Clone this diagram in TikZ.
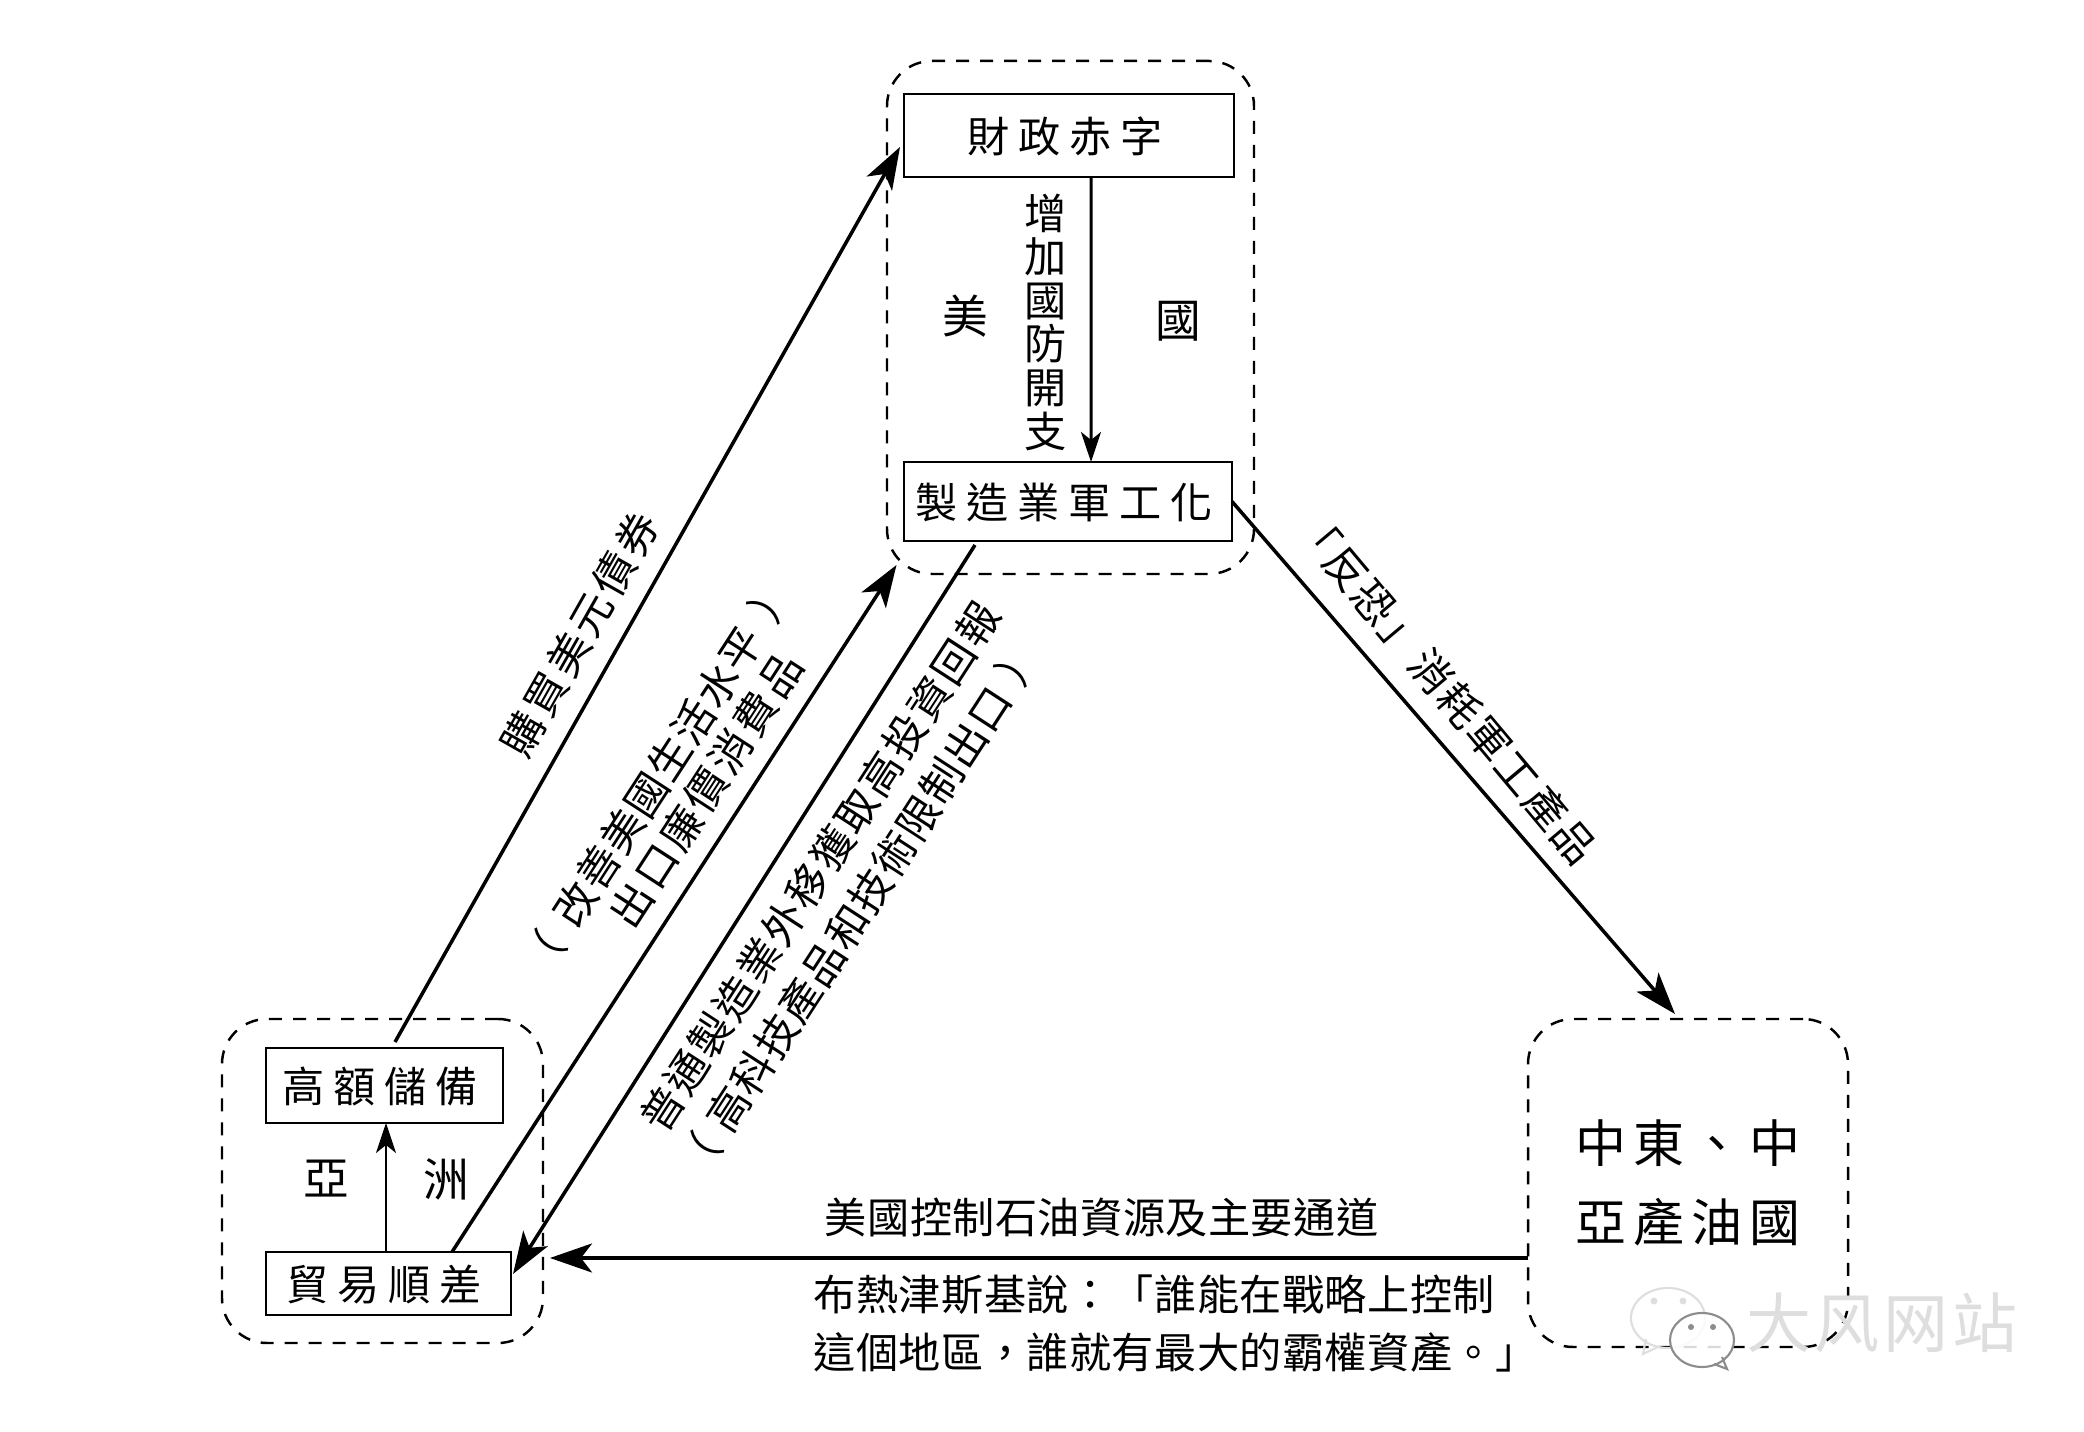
\documentclass[tikz,border=0pt]{standalone}
\usepackage{fontspec}
\setmainfont{Noto Sans CJK TC}
\newfontfamily\WatermarkFont{Noto Sans CJK SC}
\usetikzlibrary{shapes,arrows.meta,positioning,calc}
\definecolor{WatermarkGray}{RGB}{222, 222, 222}
\definecolor{BubbleGray}{RGB}{140, 140, 140}
\newcommand{\BoxFont}{\addfontfeature{LetterSpace=21}\fontsize{12pt}{12.6pt}\selectfont}
\newcommand{\FlowFont}[1]{\addfontfeature{LetterSpace=#1}\fontsize{12pt}{12.4pt}\selectfont}
\newcommand{\RegionFont}{\fontsize{13pt}{14pt}\selectfont}
\newcommand{\OilFont}{\addfontfeature{LetterSpace=14}\fontsize{14.5pt}{22.5pt}\selectfont}
\tikzset{
  groupbox/.style={draw, dash pattern=on 0.13cm off 0.11cm, rounded corners=0.45cm,
                   line width=0.7pt, inner sep=0pt, outer sep=0pt},
  textbox/.style={draw, line width=0.7pt, inner sep=0pt, outer sep=0pt, font=\BoxFont,
                  text height=1.05em, text depth=0.1em, execute at end node=\hspace{0.08cm}},
  flowlabel/.style={inner sep=0pt, font=\FlowFont{#1}},
  flowlabel/.default=1,
  regionlabel/.style={inner sep=0pt, font=\RegionFont},
  bigarrow/.style={line width=1pt, -{Stealth[length=0.42cm,width=0.29cm,inset=0.11cm]}},
  smallarrow/.style={line width=0.85pt, -{Stealth[length=0.3cm,width=0.2cm,inset=0.08cm]}}
}

\begin{document}
\begin{tikzpicture}
        \useasboundingbox (0,0) rectangle (20.84,14.32);

        \node[groupbox, minimum width=3.67cm, minimum height=5.13cm] (usgroup) at (10.705,11.145) {};
        \node[groupbox, minimum width=3.21cm, minimum height=3.24cm] (asiagroup) at (3.825,2.51) {};
        \node[groupbox, minimum width=3.20cm, minimum height=3.28cm, align=center, font=\OilFont]
              (oilgroup) at (16.88,2.49) {中東、中\hspace{0.12cm}\\亞產油國\hspace{0.12cm}};

        \node[textbox, minimum width=3.30cm, minimum height=0.83cm] (deficit) at (10.69,12.965) {財政赤字};
        \node[textbox, minimum width=3.28cm, minimum height=0.79cm] (arms) at (10.68,9.305) {製造業軍工化};
        \node[textbox, minimum width=2.37cm, minimum height=0.75cm] (reserve) at (3.845,3.465) {高額儲備};
        \node[textbox, minimum width=2.45cm, minimum height=0.63cm] (surplus) at (3.885,1.485) {貿易順差};

        \node[regionlabel] (usleft) at (9.65,11.16) {美};
        \node[regionlabel] (usright) at (11.78,11.11) {國};
        \node[regionlabel] (asialeft) at (3.26,2.53) {亞};
        \node[regionlabel] (asiaright) at (4.46,2.53) {洲};

        \node[flowlabel, align=center] (spending) at (10.46,11.10) {增\\加\\國\\防\\開\\支};
        \node[flowlabel=9, rotate=60.5] (bonds) at (5.80,7.98) {購買美元債券};
        \node[flowlabel=3, rotate=57] (living) at (6.58,6.555) {（\hspace{0.17cm}改善美國生活水平\hspace{0.17cm}）};
        \node[flowlabel=8, rotate=57] (exports) at (7.06,6.42) {出口廉價消費品};
        \node[flowlabel=5.5, rotate=57] (offshore) at (8.20,5.65) {普通製造業外移獲取高投資回報};
        \node[flowlabel=3, rotate=57] (hightech) at (8.59,5.23) {（\hspace{0.13cm}高科技產品和技術限制出口\hspace{0.13cm}）};
        \node[flowlabel=5.5, rotate=-50] (terror) at (14.46,7.44) {「反恐」消耗軍工產品};
        \node[flowlabel] (control) at (11.015,2.14) {美國控制石油資源及主要通道};
        \node[flowlabel, anchor=west] (quoteone) at (8.13,1.37) {布熱津斯基說：「誰能在戰略上控制};
        \node[flowlabel, anchor=west] (quotetwo) at (8.13,0.80) {這個地區，誰就有最大的霸權資產。」};

        \draw[smallarrow] ([xshift=0.22cm]deficit.south) -- ([xshift=0.23cm]arms.north);
        \draw[smallarrow, line width=0.65pt] ([xshift=-0.025cm]surplus.north) -- ([xshift=0.015cm]reserve.south);
        \draw[bigarrow] ([xshift=0.105cm,yshift=0.06cm]reserve.north) -- ([xshift=-0.04cm,yshift=-0.115cm]deficit.west);
        \draw[bigarrow] ([xshift=0.635cm]surplus.north) -- ([xshift=0.095cm,yshift=0.09cm]usgroup.south west);
        \draw[bigarrow] ([xshift=-0.93cm,yshift=-0.04cm]arms.south) -- ([xshift=0.02cm,yshift=0.095cm]surplus.east);
        \draw[bigarrow] (arms.east) -- ([xshift=-0.13cm,yshift=0.05cm]oilgroup.north);
        \draw[bigarrow] ([yshift=-0.75cm]oilgroup.west) -- ([xshift=0.39cm,yshift=0.255cm]surplus.east);

        \draw[WatermarkGray, line width=0.6pt] (16.68,1.14) ellipse (0.37cm and 0.30cm);
        \draw[WatermarkGray, line width=0.6pt] (16.46,0.93) -- (16.43,0.78) -- (16.60,0.86);
        \draw[BubbleGray, fill=white, fill opacity=0.85, line width=0.6pt] (17.02,0.92) ellipse (0.32cm and 0.27cm);
        \draw[BubbleGray, line width=0.6pt] (17.14,0.68) -- (17.27,0.63) -- (17.22,0.75);
        \fill[WatermarkGray] (16.54,1.31) circle (0.035cm) (16.83,1.31) circle (0.035cm);
        \fill[BubbleGray] (16.91,1.05) circle (0.03cm) (17.13,1.05) circle (0.03cm);
        \node[inner sep=0pt, text=WatermarkGray, font=\WatermarkFont\addfontfeature{LetterSpace=6}\fontsize{18.5pt}{20pt}\selectfont]
              (watermark) at (18.82,1.09) {大风网站};
      \end{tikzpicture}
\end{document}
